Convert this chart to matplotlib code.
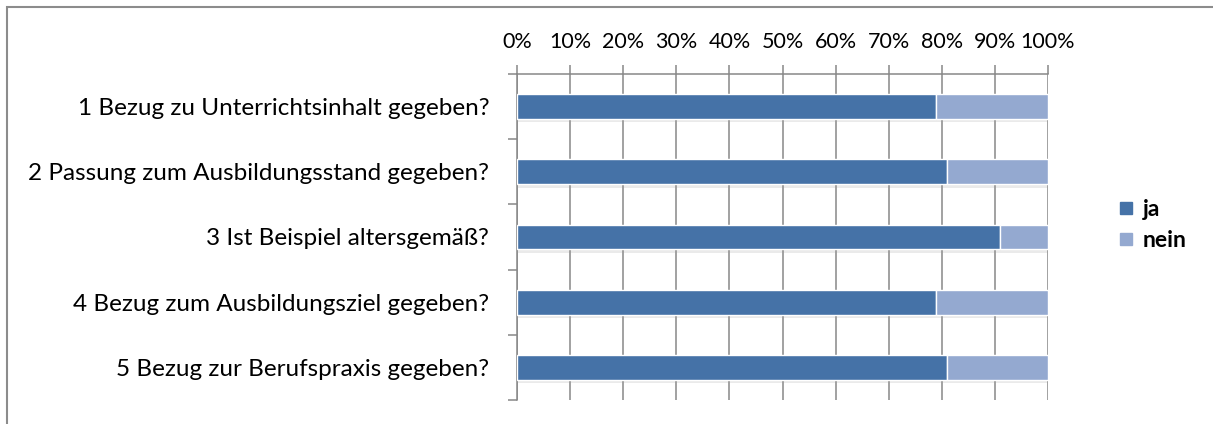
"""Stacked 100% horizontal bar chart: ja / nein per criterion (Excel 2007 look)."""
import matplotlib
matplotlib.use("Agg")
import matplotlib.pyplot as plt
import matplotlib.patheffects as pe
from matplotlib.patches import Rectangle
from matplotlib.lines import Line2D

# Data
categories = [
    "1 Bezug zu Unterrichtsinhalt gegeben?",
    "2 Passung zum Ausbildungsstand gegeben?",
    "3 Ist Beispiel altersgemäß?",
    "4 Bezug zum Ausbildungsziel gegeben?",
    "5 Bezug zur Berufspraxis gegeben?",
]
ja = [79, 81, 91, 79, 81]
nein = [21, 19, 9, 21, 19]
series_names = ["ja", "nein"]
tick_values = [0, 10, 20, 30, 40, 50, 60, 70, 80, 90, 100]

COLOR_JA = "#4572a7"
COLOR_NEIN = "#94a9d0"
COLOR_GRID = "#878787"
FONT = "Lato"

plt.rcParams["font.family"] = [FONT, "DejaVu Sans"]

W, H = 1213, 424
fig = plt.figure(figsize=(W / 100, H / 100), dpi=100)

# chart frame (left/top visible, runs off the right and bottom)
fig.patches.append(Rectangle((7 / W, -0.05), 1.1, 1 - 7 / H + 0.05,
                             transform=fig.transFigure, fill=False,
                             edgecolor="#8c8c8c", linewidth=1.5))

left, right, top, bottom = 517 / W, 1048 / W, 1 - 74 / H, 1 - 400 / H
ax = fig.add_axes([left, bottom, right - left, top - bottom])

ypos = list(range(len(categories)))
shadow = [pe.SimplePatchShadow(offset=(0, -2.5), shadow_rgbFace="#9a9a9a", alpha=0.2),
          pe.Normal()]
b1 = ax.barh(ypos, ja, height=0.38, color=COLOR_JA, edgecolor="white",
             linewidth=1.0, zorder=3)
b2 = ax.barh(ypos, nein, left=ja, height=0.38, color=COLOR_NEIN,
             edgecolor="white", linewidth=1.0, zorder=3)
for bar in list(b1) + list(b2):
    bar.set_path_effects(shadow)

ax.set_xlim(0, 100)
ax.set_ylim(len(categories) - 0.5, -0.5)

# value axis on top
ax.xaxis.tick_top()
ax.set_xticks(tick_values)
ax.set_xticklabels([f"{v}%" for v in tick_values], fontsize=15.5, color="black")
ax.tick_params(axis="x", which="major", direction="out", length=6.5,
               width=1.1, color=COLOR_GRID, pad=9)
ax.grid(axis="x", color=COLOR_GRID, linewidth=1.1, zorder=0)
ax.set_axisbelow(True)

# category axis: labels at centres, ticks at boundaries
ax.set_yticks(ypos)
ax.set_yticklabels(categories, fontsize=17.5, color="black")
ax.tick_params(axis="y", which="major", length=0, pad=20)
ax.set_yticks([y - 0.5 for y in ypos] + [len(categories) - 0.5], minor=True)
ax.tick_params(axis="y", which="minor", direction="out", length=6.5,
               width=1.1, color=COLOR_GRID)

for side in ["right", "bottom"]:
    ax.spines[side].set_visible(False)
for side in ["left", "top"]:
    ax.spines[side].set_color(COLOR_GRID)
    ax.spines[side].set_linewidth(1.1)

handles = [Line2D([], [], marker="s", linestyle="none", markersize=8,
                  markerfacecolor=c, markeredgecolor=c)
           for c in [COLOR_JA, COLOR_NEIN]]
fig.legend(handles, series_names, loc="center left",
           bbox_to_anchor=(1108 / W, 1 - 225 / H), frameon=False,
           prop={"family": FONT, "weight": "bold", "size": 16.5},
           handletextpad=0.3, labelspacing=0.4, handlelength=0.8,
           borderaxespad=0)

fig.savefig("out.png", dpi=100, facecolor="white")
